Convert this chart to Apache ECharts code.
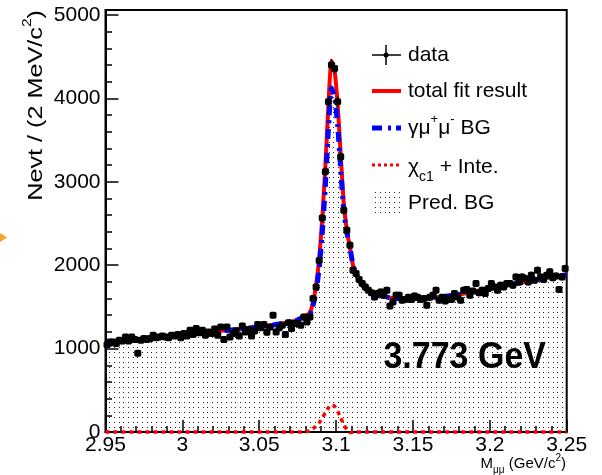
<!DOCTYPE html>
<html><head><meta charset="utf-8">
<script src="https://cdn.jsdelivr.net/npm/echarts@6/dist/echarts.min.js"></script>
<style>html,body{margin:0;padding:0;background:#fff}#c{width:602px;height:475px}</style>
</head><body><div id="c"></div>
<script>
// ---- binning (2 MeV bins from 2.95 to 3.25) ----
const massMin = 2.95, massMax = 3.25, binWidth = 0.002;
// ---- data counts per bin ----
const dataCounts = [
 1045,1080,1080,1060,1100,1090,1140,1090,1140,1110,
 945,1100,1120,1110,1120,1160,1130,1140,1150,1140,
 1130,1160,1150,1170,1130,1180,1150,1220,1170,1240,
 1190,1220,1160,1200,1180,1235,1160,1260,1110,1260,
 1140,1180,1215,1150,1270,1200,1230,1150,1210,1290,
 1250,1290,1195,1260,1400,1200,1250,1280,1170,1310,
 1240,1300,1300,1280,1380,1320,1380,1600,1740,2055,
 2565,3120,3960,4400,4360,3960,3300,2660,2420,2240,
 1940,1900,1830,1780,1740,1700,1670,1620,1660,1680,
 1640,1700,1510,1560,1640,1640,1580,1590,1615,1590,
 1630,1615,1590,1600,1520,1615,1640,1700,1580,1615,
 1570,1600,1590,1660,1620,1580,1700,1710,1640,1690,
 1780,1670,1700,1660,1720,1780,1740,1700,1760,1740,
 1780,1780,1760,1860,1800,1860,1840,1800,1880,1820,
 1940,1860,1830,1880,1920,1850,1870,1710,1860,1960
];
// ---- total fit curve ----
const fitMass = [2.95,2.96,2.97,2.98,2.99,3.00,3.01,3.02,3.03,3.04,3.05,3.06,3.07,3.075,3.08,3.083,3.085,3.087,3.089,3.091,3.093,3.095,3.097,3.099,3.101,3.103,3.105,3.107,3.109,3.111,3.113,3.115,3.117,3.119,3.122,3.126,3.13,3.14,3.15,3.16,3.17,3.18,3.19,3.2,3.21,3.22,3.23,3.24,3.25];
const fitValues = [1040,1080,1110,1130,1150,1165,1185,1205,1220,1240,1260,1285,1320,1345,1390,1430,1560,1760,2080,2560,3180,3920,4450,4330,3930,3320,2740,2420,2210,2000,1900,1815,1760,1720,1680,1645,1625,1600,1595,1605,1625,1650,1685,1720,1755,1790,1825,1855,1885];
// ---- gamma mu mu BG curve ----
const bgMass = [2.95,2.96,2.97,2.98,2.99,3.00,3.01,3.02,3.03,3.04,3.05,3.06,3.07,3.075,3.08,3.083,3.085,3.087,3.089,3.091,3.093,3.095,3.097,3.099,3.101,3.103,3.105,3.107,3.109,3.111,3.113,3.115,3.117,3.119,3.122,3.126,3.13,3.14,3.15,3.16,3.17,3.18,3.19,3.2,3.21,3.22,3.23,3.24,3.25];
const bgValues = [1040,1080,1110,1130,1150,1165,1185,1205,1220,1240,1260,1285,1320,1345,1390,1415,1520,1690,1970,2390,2950,3630,4125,4020,3680,3150,2650,2390,2215,2000,1900,1815,1760,1720,1680,1645,1625,1600,1595,1605,1625,1650,1685,1720,1755,1790,1825,1855,1885];
// ---- chi_c1 + interference ----
const chiMass = [2.95,3.078,3.081,3.083,3.085,3.087,3.089,3.091,3.093,3.095,3.097,3.099,3.101,3.103,3.105,3.107,3.109,3.112,3.25];
const chiValues = [0,0,5,15,40,70,110,170,230,290,325,310,250,170,90,30,-5,0,0];
// ---- predicted BG ----
const predMass = [2.95,2.97,3.0,3.03,3.06,3.08,3.085,3.089,3.093,3.097,3.101,3.105,3.109,3.113,3.12,3.13,3.15,3.17,3.2,3.22,3.25];
const predValues = [1010,1080,1130,1190,1250,1350,1480,1990,3050,4250,3800,2620,2170,1860,1680,1590,1565,1595,1690,1760,1850];
// ---- ticks ----
const xTickStep = 0.05;
const yMajorTicks = [0,1000,2000,3000,4000,5000];
const yMinorTicks = [200,400,600,800,1200,1400,1600,1800,2200,2400,2600,2800,3200,3400,3600,3800,4200,4400,4600,4800];
const yMax = 5060;

const FONT = "'Liberation Sans', Arial, Helvetica, sans-serif";
const pair = (a, b) => a.map((v, i) => [v, b[i]]);
const dataPoints = dataCounts.map((v, i) => [massMin + binWidth * (i + 0.5), v]);

// dotted fill pattern
const pc = document.createElement('canvas');
pc.width = 14; pc.height = 5;
const pctx = pc.getContext('2d');
pctx.fillStyle = '#222';
[2, 7, 11].forEach(x => pctx.fillRect(x, 2, 1, 1));
const dotPattern = { image: pc, repeat: 'repeat' };

const chart = echarts.init(document.getElementById('c'), null, { renderer: 'canvas' });

const legendX1 = 372, legendX2 = 401, legendTextX = 408;
const rich = {
  n: { fontSize: 21, fontFamily: FONT, color: '#000', lineHeight: 30 },
  n2: { fontSize: 21, fontFamily: FONT, color: '#000', lineHeight: 34 },
  sup: { fontSize: 13, fontFamily: FONT, color: '#000', lineHeight: 13, verticalAlign: 'top' },
  sub: { fontSize: 14, fontFamily: FONT, color: '#000', lineHeight: 12, verticalAlign: 'bottom' },
  sn: { fontSize: 15, fontFamily: FONT, color: '#000', lineHeight: 22 },
  ssub: { fontSize: 10, fontFamily: FONT, color: '#000', lineHeight: 9, verticalAlign: 'bottom' },
  ssup: { fontSize: 10, fontFamily: FONT, color: '#000', lineHeight: 9, verticalAlign: 'top' }
};

const graphic = [
  // data legend
  { type: 'line', shape: { x1: legendX1, y1: 55, x2: legendX2, y2: 55 }, style: { stroke: '#000', lineWidth: 1.5 } },
  { type: 'line', shape: { x1: 386, y1: 45, x2: 386, y2: 65 }, style: { stroke: '#000', lineWidth: 1.5 } },
  { type: 'circle', shape: { cx: 386, cy: 55, r: 2.5 }, style: { fill: '#000' } },
  { type: 'text', x: legendTextX, y: 55, style: { text: 'data', font: '21px ' + FONT, fill: '#000', verticalAlign: 'middle' } },
  // total fit
  { type: 'line', shape: { x1: legendX1, y1: 91, x2: legendX2, y2: 91 }, style: { stroke: '#ff0000', lineWidth: 4 } },
  { type: 'text', x: legendTextX, y: 91, style: { text: 'total fit result', font: '21px ' + FONT, fill: '#000', verticalAlign: 'middle' } },
  // gamma mu mu
  { type: 'line', shape: { x1: legendX1, y1: 128, x2: legendX2, y2: 128 }, style: { stroke: '#0000ff', lineWidth: 5, lineDash: [10, 6, 3, 5] } },
  { type: 'text', x: legendTextX, y: 128, style: { text: '{n|γμ}{sup|+}{n|μ}{sup|-}{n| BG}', rich: rich, verticalAlign: 'middle' } },
  // chi_c1
  { type: 'line', shape: { x1: legendX1, y1: 165, x2: legendX2, y2: 165 }, style: { stroke: '#ff0000', lineWidth: 3, lineDash: [3, 3] } },
  { type: 'text', x: legendTextX, y: 167, style: { text: '{n2|χ}{sub|c1}{n2| + Inte.}', rich: rich, verticalAlign: 'middle' } },
  // pred BG
  { type: 'rect', shape: { x: legendX1, y: 190, width: 29, height: 25 }, style: { fill: dotPattern } },
  { type: 'text', x: legendTextX, y: 203, style: { text: 'Pred. BG', font: '21px ' + FONT, fill: '#000', verticalAlign: 'middle' } },
  // energy label
  { type: 'text', x: 546, y: 397, scaleY: 1.1, originY: 397, style: { text: '3.773 GeV', font: 'bold 34px ' + FONT, fill: '#000', align: 'right', verticalAlign: 'middle' }, z: 50 },
  // y-axis title
  { type: 'text', x: 36, y: 10, rotation: Math.PI / 2, scaleX: 1.2, style: { text: '{n|Nevt / (2 MeV/c}{sup|2}{n|)}', rich: rich, align: 'right', verticalAlign: 'middle' } },
  // x-axis title
  { type: 'text', x: 566, y: 464, style: { text: '{sn|M}{ssub|μμ}{sn| (GeV/c}{ssup|2}{sn|)}', rich: rich, align: 'right', verticalAlign: 'middle' } },
  // orange marker at left edge
  { type: 'polygon', shape: { points: [[0, 233], [7, 237.5], [0, 242]] }, style: { fill: '#f5a623' } }
];

const option = {
  animation: false,
  backgroundColor: '#fff',
  grid: { left: 105.5, right: 35.3, top: 10, bottom: 43, show: true, borderColor: '#000', borderWidth: 2, backgroundColor: 'transparent' },
  xAxis: {
    type: 'value', min: massMin, max: massMax, interval: xTickStep,
    axisLine: { lineStyle: { color: '#000', width: 2 } },
    axisTick: { inside: true, length: 12, lineStyle: { color: '#000', width: 1.5 } },
    minorTick: { show: true, splitNumber: 5, length: 6, lineStyle: { color: '#000', width: 1.5 } },
    splitLine: { show: false }, minorSplitLine: { show: false },
    axisLabel: { color: '#000', fontSize: 21, fontFamily: FONT, margin: 3, formatter: v => String(+v.toFixed(2)) }
  },
  yAxis: [
    {
      type: 'value', min: 0, max: yMax, position: 'left',
      axisLine: { show: true, lineStyle: { color: '#000', width: 2 } },
      axisTick: { show: true, inside: true, length: 13, customValues: yMajorTicks, lineStyle: { color: '#000', width: 1.5 } },
      axisLabel: { color: '#000', fontSize: 21, fontFamily: FONT, margin: 5, customValues: yMajorTicks, formatter: v => String(Math.round(v)) },
      splitLine: { show: false }
    },
    {
      type: 'value', min: 0, max: yMax, position: 'left', offset: 0,
      axisLine: { show: false },
      axisTick: { show: true, inside: true, length: 6.5, customValues: yMinorTicks, lineStyle: { color: '#000', width: 1.5 } },
      axisLabel: { show: false },
      splitLine: { show: false }
    }
  ],
  graphic: graphic,
  series: [
    { name: 'Pred. BG', type: 'line', data: pair(predMass, predValues), showSymbol: false, smooth: 0.2, z: 1,
      lineStyle: { width: 0 }, areaStyle: { color: dotPattern, opacity: 1 }, silent: true },
    { name: 'total fit result', type: 'line', data: pair(fitMass, fitValues), showSymbol: false, smooth: 0.2, z: 3,
      lineStyle: { color: '#ff0000', width: 4 }, silent: true },
    { name: 'gamma mu mu BG', type: 'line', data: pair(bgMass, bgValues), showSymbol: false, smooth: 0.2, z: 4,
      lineStyle: { color: '#0000ff', width: 5, type: [10, 6, 3, 5] }, silent: true },
    { name: 'data err', type: 'custom', data: dataPoints, z: 5, silent: true,
      renderItem: (params, api) => {
        const x = api.value(0), y = api.value(1), e = Math.sqrt(y);
        const a = api.coord([x, y - e]), b = api.coord([x, y + e]);
        const l = api.coord([x - binWidth / 2, y]), r = api.coord([x + binWidth / 2, y]);
        return { type: 'group', children: [
          { type: 'line', shape: { x1: a[0], y1: a[1], x2: b[0], y2: b[1] }, style: { stroke: '#000', lineWidth: 1.2 } },
          { type: 'line', shape: { x1: l[0], y1: l[1], x2: r[0], y2: r[1] }, style: { stroke: '#000', lineWidth: 1.2 } }
        ] };
      } },
    { name: 'data', type: 'scatter', data: dataPoints, z: 6, symbol: 'roundRect', symbolSize: 7,
      itemStyle: { color: '#000', opacity: 1 }, silent: true },
    { name: 'chi_c1 + Inte.', type: 'line', data: pair(chiMass, chiValues), showSymbol: false, smooth: 0.2, z: 20, clip: false,
      lineStyle: { color: '#ff0000', width: 3.5, type: [4, 4] }, silent: true }
  ]
};
chart.setOption(option);
</script></body></html>
